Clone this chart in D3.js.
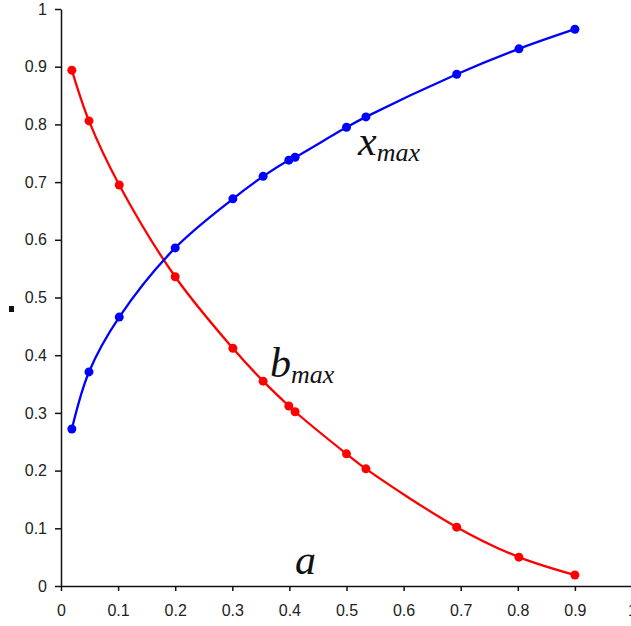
<!DOCTYPE html>
<html>
<head>
<meta charset="utf-8">
<script src="https://cdn.jsdelivr.net/npm/d3@7"></script>
<style>
  body { margin: 0; background: #fff; }
  .tick text { font-family: "Liberation Sans", Arial, sans-serif; font-size: 16px; fill: #222; }
  .lbl { font-family: "Liberation Serif", "Times New Roman", serif; font-style: italic; fill: #111; }
</style>
</head>
<body>
<div id="chart"></div>
<script>
// values
const aValues = [0.019, 0.049, 0.102, 0.2, 0.301, 0.354, 0.399, 0.41, 0.5, 0.534, 0.693, 0.802, 0.9];
const bMax = [0.894, 0.806, 0.695, 0.536, 0.412, 0.355, 0.312, 0.302, 0.229, 0.203, 0.102, 0.050, 0.019];
const xMax = [0.272, 0.371, 0.466, 0.586, 0.671, 0.710, 0.738, 0.743, 0.795, 0.813, 0.887, 0.931, 0.965];
const xTicks = [0, 0.1, 0.2, 0.3, 0.4, 0.5, 0.6, 0.7, 0.8, 0.9, 1];
const yTicks = [0, 0.1, 0.2, 0.3, 0.4, 0.5, 0.6, 0.7, 0.8, 0.9, 1];

const width = 631, height = 626;
const svg = d3.select("#chart").append("svg")
    .attr("width", width)
    .attr("height", height);

const x = d3.scaleLinear().domain([0, 1]).range([61, 632]);
const y = d3.scaleLinear().domain([0, 1]).range([586, 9]);

// axes
svg.append("g")
    .attr("transform", "translate(0,586)")
    .call(d3.axisBottom(x).tickValues(xTicks).tickFormat(d3.format("")).tickSize(5).tickPadding(14).tickSizeOuter(0))
    .call(g => g.selectAll("line, path").attr("stroke", "#111").attr("stroke-width", 1.5));

svg.append("g")
    .attr("transform", "translate(61,0)")
    .call(d3.axisLeft(y).tickValues(yTicks).tickFormat(d3.format("")).tickSize(6).tickPadding(8).tickSizeOuter(0))
    .call(g => g.selectAll("line, path").attr("stroke", "#111").attr("stroke-width", 1.5));

// stray mark left of the y axis
svg.append("rect").attr("x", 9).attr("y", 306).attr("width", 5).attr("height", 6).attr("fill", "#111");

const pts = vals => aValues.map((a, i) => [a, vals[i]]);
const line = d3.line()
    .x(d => x(d[0]))
    .y(d => y(d[1]))
    .curve(d3.curveCatmullRom.alpha(0.5));

[[bMax, "#ff0000"], [xMax, "#0000ff"]].forEach(([vals, col]) => {
    svg.append("path")
        .datum(pts(vals))
        .attr("d", line)
        .attr("fill", "none")
        .attr("stroke", col)
        .attr("stroke-width", 2.3);
    svg.selectAll(null)
        .data(pts(vals))
        .enter().append("circle")
        .attr("cx", d => x(d[0]))
        .attr("cy", d => y(d[1]))
        .attr("r", 4.5)
        .attr("fill", col);
});

// curve labels
function label(px, py, main, sub) {
    const t = svg.append("text").attr("class", "lbl").attr("x", px).attr("y", py);
    t.append("tspan").attr("font-size", 42).text(main);
    if (sub) t.append("tspan").attr("font-size", 26).attr("dy", 6).text(sub);
}
label(358, 155, "x", "max");
label(270, 377, "b", "max");
label(295, 574, "a");
</script>
</body>
</html>
